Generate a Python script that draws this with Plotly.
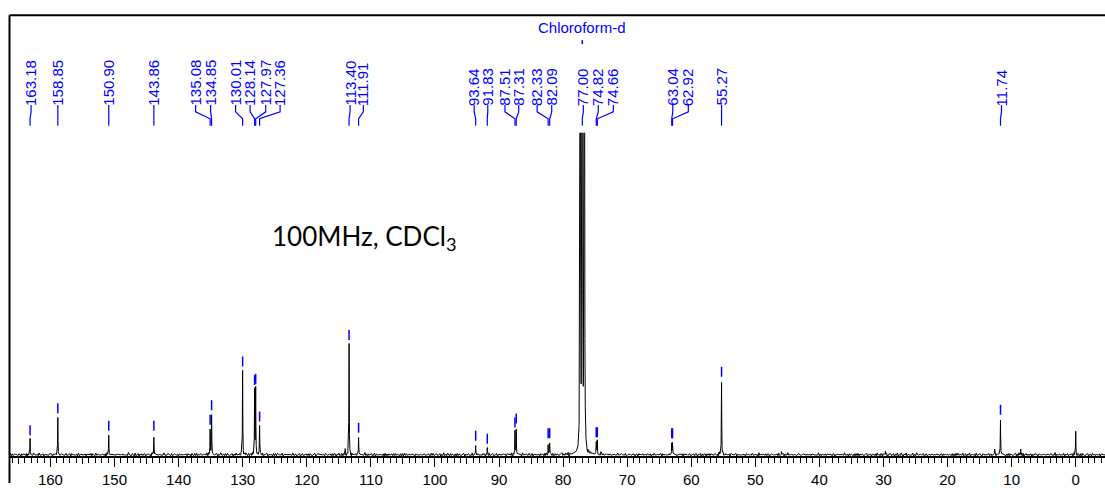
import numpy as np
import plotly.graph_objects as go

# ---- peak data (13C, ppm) ----
label_ppm = [163.18, 158.85, 150.90, 143.86, 135.08, 134.85, 130.01, 128.14,
             127.97, 127.36, 113.40, 111.91, 93.64, 91.83, 87.51, 87.31,
             82.33, 82.09, 77.00, 74.82, 74.66, 63.04, 62.92, 55.27, 11.74]
label_height = [13.3, 33.3, 17.3, 17.3, 22.7, 35.9, 75.8, 58.9,
                60.2, 25.7, 100.0, 15.6, 8.2, 5.6, 20.4, 23.9,
                10.6, 10.6, 3000.0, 11.5, 11.5, 10.4, 10.4, 66.4, 31.9]
# unlabelled lines: outer CDCl3 lines, TMS and minor signals
other_ppm = [77.32, 76.68, 0.00, 8.58, 12.65, 114.0, 45.9, 29.7]
other_height = [3000.0, 3000.0, 20.4, 6.2, 3.5, 3.5, 3.0, 3.5]
solvent_ppm = [77.32, 77.00, 76.68]

# baseline noise samples (two interleaved tables)
noise_a = [0.3, -0.6, 0.9, -0.2, 0.5, -0.9, 0.1, 0.7, -0.4, 0.2, -0.7, 1.1, -0.3,
           0.4, -0.8, 0.6, 0.0, -0.5, 0.8, -0.1, 0.3, -1.0, 0.5, 0.2, -0.6, 0.9,
           -0.3, 0.1, 0.6, -0.7, 0.4, -0.2, 1.3, -0.5, 0.2, -0.8, 0.7, 0.0, -0.4,
           0.5, -0.1]
noise_b = [-0.2, 0.4, -0.5, 0.7, 0.1, -0.3, 0.6, -0.8, 0.2, 0.5, -0.1, -0.6, 0.3,
           0.9, -0.4, 0.0, 0.4, -0.7, 0.2, 0.6, -0.3, 0.1, -0.5, 0.8, -0.2, 0.3,
           -0.9, 0.5, 0.0, -0.4, 0.7, -0.1, 0.2, -0.6, 0.4, 1.0, -0.3, 0.1, -0.5,
           0.6, -0.2, 0.3, -0.8, 0.5, 0.1, -0.4, 0.2, 0.7, -0.6, 0.0, 0.4, -0.3,
           0.9, -0.1, -0.5, 0.3, 0.6, -0.2, 0.1]

# label nudges in pixels (right positive) for crowded groups
label_shift = [1, 0, 0, 0, -14.5, -1, -7, -4.5,
               10, 20.5, 1, 4.7, -1.5, 0.5, -10, 2.5,
               -11, 2, 1, 2, 16, 1, 15.8, 0, 1]

# ---- geometry ----
W, H = 1105, 488
X_LEFT = 9.5
X_MAX, X_MIN = 166.39, -4.57
AX_Y, TOP_Y, BASE_PX = 461.0, 134.0, 1.5
PX_PER_UNIT = 1.11
px_per_ppm = (W - X_LEFT) / (X_MAX - X_MIN)


def py(ypx):
    return (H - ypx) / H


# ---- spectrum ----
all_ppm = label_ppm + other_ppm
all_h = label_height + other_height
step = 0.15
grids = [np.arange(X_MIN, X_MAX, step)]
for p in all_ppm:
    if p in solvent_ppm:
        grids.append(np.arange(p - 2.0, p + 2.0, 0.002))
    else:
        grids.append(np.arange(p - 0.6, p + 0.6, 0.004))
x = np.unique(np.concatenate(grids))

y = np.zeros_like(x)
for p, h in zip(all_ppm, all_h):
    g = 0.016 if p in solvent_ppm else 0.03
    y += h * g * g / ((x - p) ** 2 + g * g)
idx = np.floor((x - X_MIN) / step).astype(int)
y += np.array(noise_a)[idx % len(noise_a)] + np.array(noise_b)[idx % len(noise_b)]

fig = go.Figure()
fig.add_trace(go.Scatter(x=x, y=y, mode="lines", line=dict(color="black", width=1.0),
                         hoverinfo="skip", showlegend=False))
# companion trace for the 5-ppm tick axis
fig.add_trace(go.Scatter(x=[X_MAX, X_MIN], y=[0, 0], xaxis="x2", yaxis="y",
                         mode="lines", line=dict(width=0), hoverinfo="skip",
                         showlegend=False))

blue = "#0000ff"
shapes = []
annotations = []

# frame
shapes.append(dict(type="line", xref="paper", yref="paper", x0=X_LEFT / W, x1=1,
                   y0=py(15.5), y1=py(15.5), line=dict(color="black", width=2)))
shapes.append(dict(type="line", xref="paper", yref="paper", x0=X_LEFT / W, x1=X_LEFT / W,
                   y0=py(15.5), y1=0, line=dict(color="black", width=2)))

for p, h, s in zip(label_ppm, label_height, label_shift):
    lx = p - s / px_per_ppm
    annotations.append(dict(text=f"{p:.2f}", x=lx, xref="x", y=py(107), yref="paper",
                            textangle=-90, xanchor="center", yanchor="bottom",
                            showarrow=False, borderpad=0, borderwidth=0,
                            font=dict(family="Liberation Sans, Arial", size=15, color=blue)))
    path = (f"M {lx},{py(106)} L {lx},{py(113)} L {p},{py(120)} L {p},{py(127)}")
    shapes.append(dict(type="path", xref="x", yref="paper", path=path,
                       line=dict(color=blue, width=1.2)))
    if p not in solvent_ppm:
        shapes.append(dict(type="line", xref="x", yref="y", x0=p, x1=p,
                           ysizemode="pixel", yanchor=h, y0=5, y1=15,
                           line=dict(color=blue, width=1.5)))

# solvent marker
annotations.append(dict(text="Chloroform-d", x=77.0, xref="x", y=py(28), yref="paper",
                        xanchor="center", yanchor="middle", showarrow=False,
                        font=dict(family="Liberation Sans, Arial", size=15, color=blue)))
shapes.append(dict(type="line", xref="x", yref="paper", x0=77.0, x1=77.0,
                   y0=py(40.5), y1=py(44.5), line=dict(color=blue, width=1.5)))

annotations.append(dict(text="100MHz, CDCl<sub>3</sub>", x=270 / W, xref="paper",
                        y=py(240), yref="paper", xanchor="left", yanchor="middle",
                        showarrow=False,
                        font=dict(family="Lato, Open Sans, sans-serif", size=26, color="black")))

axis_common = dict(range=[X_MAX, X_MIN], domain=[X_LEFT / W, 1], showgrid=False,
                   zeroline=False)
fig.update_layout(
    width=W, height=H,
    margin=dict(l=0, r=0, t=0, b=0),
    paper_bgcolor="white", plot_bgcolor="white",
    xaxis=dict(**axis_common, anchor="y", showline=True, linecolor="black", linewidth=1.6,
               ticks="outside", ticklen=9, tickwidth=1.4, tickcolor="black",
               tick0=0, dtick=10,
               tickfont=dict(family="Liberation Sans, Arial", size=15, color="black"),
               minor=dict(ticks="outside", dtick=1, tick0=0, ticklen=5, tickwidth=1,
                          tickcolor="black", showgrid=False)),
    xaxis2=dict(**axis_common, anchor="y", overlaying="x", side="bottom",
                ticks="outside", tick0=5, dtick=10, ticklen=7, tickwidth=1.2,
                tickcolor="black", showticklabels=False, showline=False),
    yaxis=dict(domain=[(H - AX_Y) / H, (H - TOP_Y) / H],
               range=[-BASE_PX / PX_PER_UNIT, (AX_Y - BASE_PX - TOP_Y) / PX_PER_UNIT],
               visible=False, showgrid=False, zeroline=False),
    shapes=shapes,
    annotations=annotations,
)

fig.write_html("out.html")
